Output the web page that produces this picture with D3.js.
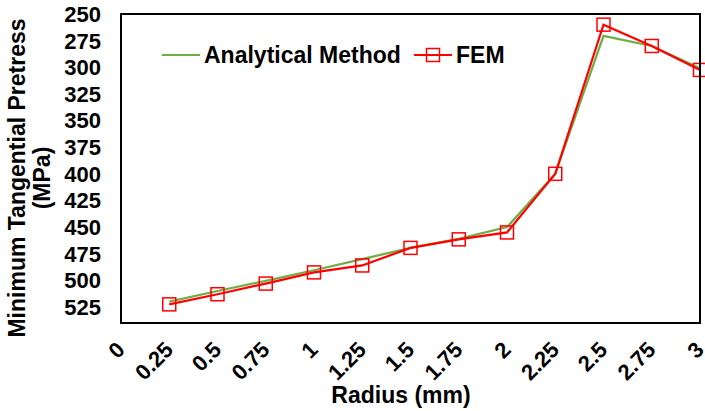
<!DOCTYPE html>
<html><head><meta charset="utf-8">
<script src="https://cdn.jsdelivr.net/npm/d3@7"></script>
<style>body{margin:0;background:#fff}svg{display:block}text{font-family:"Liberation Sans",Arial,sans-serif;font-weight:bold;fill:#000}</style>
</head><body>
<svg id="c" width="705" height="411"></svg>
<script>
const radius = [0.25,0.5,0.75,1,1.25,1.5,1.75,2,2.25,2.5,2.75,3];
const analytical = [520,510,500.5,490.5,480,469.5,461,450,400,270.5,280,301];
const fem = [522.5,513,503,492.5,486,469.5,461.5,455,400,260,280,302.5];
const xTicks = [0,0.25,0.5,0.75,1,1.25,1.5,1.75,2,2.25,2.5,2.75,3];
const yTicks = [250,275,300,325,350,375,400,425,450,475,500,525];

const svg = d3.select("#c");
const L=121,R=700,T=14,B=323;
const x = d3.scaleLinear().domain([0,3]).range([L,R]);
const y = d3.scaleLinear().domain([250,540]).range([T,B]);
const fs = 22, fsT = 23;

// y tick labels
svg.append("g").selectAll("text").data(yTicks).join("text")
  .attr("x",101).attr("y",d=>y(d)).attr("dy","0.36em")
  .attr("text-anchor","end").style("font-size",fs+"px").text(d=>d);

// x tick labels
svg.append("g").selectAll("text").data(xTicks).join("text")
  .attr("transform",d=>`translate(${x(d)-6},${340}) rotate(-45)`)
  .attr("text-anchor","end").attr("dy","0.72em").style("font-size",fs+"px").text(d=>d);

// axis titles
svg.append("text").attr("x",401).attr("y",403).attr("text-anchor","middle")
  .style("font-size",fsT+"px").text("Radius (mm)");
const yt = svg.append("text").attr("transform","translate(25,178) rotate(-90)")
  .attr("text-anchor","middle").style("font-size",fsT+"px");
yt.append("tspan").attr("x",0).attr("dy",0).text("Minimum Tangential Pretress");
yt.append("tspan").attr("x",0).attr("dy","1.1em").text("(MPa)");

// lines
const line = d3.line().x((d,i)=>x(radius[i])).y(d=>y(d));
svg.append("path").datum(analytical).attr("d",line).attr("fill","none")
  .attr("stroke","#70AD47").attr("stroke-width",2.2);
svg.append("path").datum(fem).attr("d",line).attr("fill","none")
  .attr("stroke","#FF0000").attr("stroke-width",2.2);
const sq = 13;
svg.append("g").selectAll("rect").data(fem).join("rect")
  .attr("x",(d,i)=>x(radius[i])-sq/2).attr("y",d=>y(d)-sq/2)
  .attr("width",sq).attr("height",sq).attr("fill","none")
  .attr("stroke","#FF0000").attr("stroke-width",1.5);

// frame
svg.append("rect").attr("x",L).attr("y",T).attr("width",R-L).attr("height",B-T)
  .attr("fill","none").attr("stroke","#000").attr("stroke-width",2);

// legend
const lg = svg.append("g");
lg.append("line").attr("x1",162).attr("x2",200).attr("y1",55).attr("y2",55)
  .attr("stroke","#70AD47").attr("stroke-width",2.2);
lg.append("text").attr("x",204).attr("y",63).style("font-size",fsT+"px").text("Analytical Method");
lg.append("line").attr("x1",414).attr("x2",452).attr("y1",55).attr("y2",55)
  .attr("stroke","#FF0000").attr("stroke-width",2.2);
lg.append("rect").attr("x",433-sq/2).attr("y",55-sq/2).attr("width",sq).attr("height",sq)
  .attr("fill","none").attr("stroke","#FF0000").attr("stroke-width",1.5);
lg.append("text").attr("x",456).attr("y",63).style("font-size",fsT+"px").text("FEM");
</script>
</body></html>
